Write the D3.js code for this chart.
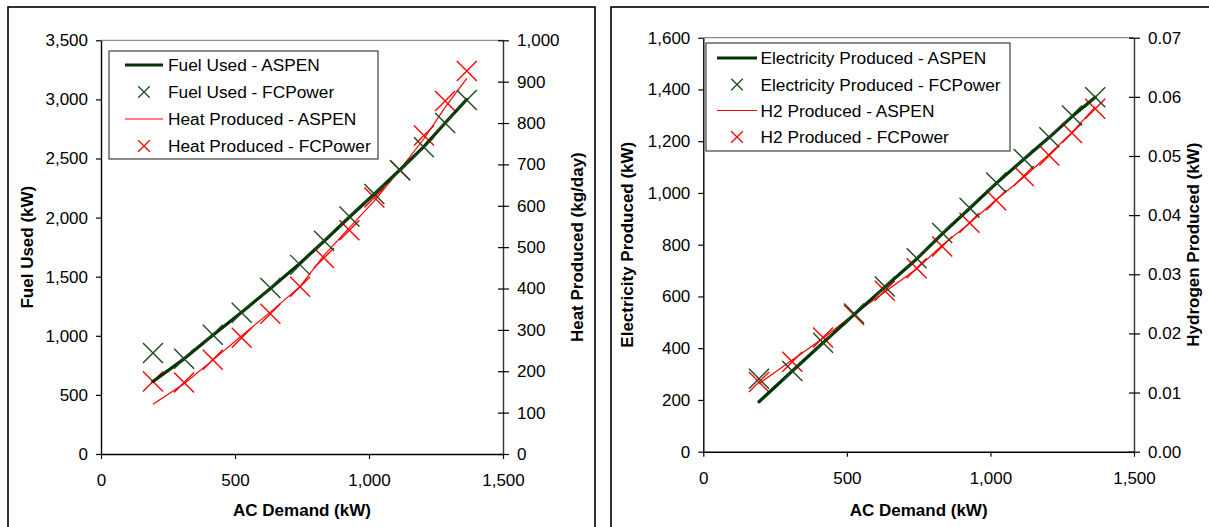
<!DOCTYPE html>
<html>
<head>
<meta charset="utf-8">
<script src="https://cdn.jsdelivr.net/npm/d3@7"></script>
<style>
  html, body { margin: 0; padding: 0; background: #fff; }
  svg { display: block; font-family: "Liberation Sans", Arial, sans-serif; }
  text { fill: #000; }
</style>
</head>
<body>
<svg id="chart" width="1209" height="527"></svg>
<script>
// AC demand levels (kW) shared by both panels
const acDemand = [194, 310, 417, 525, 632, 743, 832, 927, 1020, 1116, 1205, 1284, 1365];

// Left panel: fuel used (kW, left axis) and heat produced (kg/day, right axis)
const fuelAspen   = [613, 805, 1005, 1200, 1400, 1615, 1800, 2005, 2200, 2405, 2600, 2800, 3000];
const fuelFCPower = [855, 805, 1008, 1195, 1405, 1600, 1805, 2010, 2200, 2400, 2595, 2800, 2995];
const heatAspen   = [120, 170, 227, 286, 343, 405, 480, 547, 612, 688, 762, 838, 908];
const heatFCPower = [175, 173, 228, 281, 339, 404, 474, 541, 620, 686, 770, 853, 926];

// Right panel: electricity produced (kW, left axis) and H2 produced (kW, right axis)
const elecAspen   = [193, 312, 421, 530, 636, 745, 842, 940, 1037, 1130, 1215, 1295, 1370];
const elecFCPower = [282, 312, 421, 534, 638, 748, 845, 943, 1040, 1131, 1215, 1299, 1370];
const h2Aspen     = [0.0115, 0.0155, 0.0192, 0.0233, 0.0270, 0.0309, 0.0349, 0.0386, 0.0426, 0.0464, 0.0503, 0.0540, 0.0583];
const h2FCPower   = [0.0118, 0.0152, 0.0193, 0.0231, 0.0272, 0.0310, 0.0347, 0.0387, 0.0425, 0.0466, 0.0501, 0.0539, 0.0580];

// Tick values
const xTicks      = [0, 500, 1000, 1500];
const fuelTicks   = [0, 500, 1000, 1500, 2000, 2500, 3000, 3500];
const heatTicks   = [0, 100, 200, 300, 400, 500, 600, 700, 800, 900, 1000];
const elecTicks   = [0, 200, 400, 600, 800, 1000, 1200, 1400, 1600];
const h2Ticks     = [0, 0.01, 0.02, 0.03, 0.04, 0.05, 0.06, 0.07];

// Text labels
const leftLegend  = ["Fuel Used - ASPEN", "Fuel Used - FCPower", "Heat Produced - ASPEN", "Heat Produced - FCPower"];
const rightLegend = ["Electricity Produced - ASPEN", "Electricity Produced - FCPower", "H2 Produced - ASPEN", "H2 Produced - FCPower"];

const GREEN_LINE = "#003300";
const GREEN_MARK = "#1c4a1c";
const RED = "#ff0000";
const FS = 17;
const FS_LEGEND = 17.3;

const svg = d3.select("#chart");

// Panel frames
svg.append("rect").attr("x", 8).attr("y", 7).attr("width", 587).attr("height", 540)
  .attr("fill", "none").attr("stroke", "#000").attr("stroke-width", 1.6);
svg.append("rect").attr("x", 611).attr("y", 7).attr("width", 640).attr("height", 540)
  .attr("fill", "none").attr("stroke", "#000").attr("stroke-width", 1.6);

function xMark(g, cx, cy, r, color, w) {
  g.append("path")
    .attr("d", `M${cx - r},${cy - r}L${cx + r},${cy + r}M${cx - r},${cy + r}L${cx + r},${cy - r}`)
    .attr("stroke", color).attr("stroke-width", w).attr("fill", "none");
}

function panel(cfg) {
  const g = svg.append("g");
  const x = d3.scaleLinear().domain([0, 1500]).range([cfg.left, cfg.right]);
  const yL = d3.scaleLinear().domain(cfg.yLDomain).range([cfg.bottom, cfg.top]);
  const yR = d3.scaleLinear().domain(cfg.yRDomain).range([cfg.bottom, cfg.top]);

  // plot area top border
  g.append("line").attr("x1", cfg.left).attr("x2", cfg.right)
    .attr("y1", cfg.top).attr("y2", cfg.top)
    .attr("stroke", "#8c8c8c").attr("stroke-width", 1.2);

  // x axis
  const ax = g.append("g").attr("transform", `translate(0,${cfg.bottom})`)
    .call(d3.axisBottom(x).tickValues(xTicks).tickFormat(d3.format(",")).tickSize(5).tickPadding(15).tickSizeOuter(0));
  // left axis
  const al = g.append("g").attr("transform", `translate(${cfg.left},0)`)
    .call(d3.axisLeft(yL).tickValues(cfg.yLTicks).tickFormat(cfg.yLFormat).tickSize(5).tickPadding(8).tickSizeOuter(0));
  // right axis with ticks crossing the line
  const ar = g.append("g").attr("transform", `translate(${cfg.right},0)`)
    .call(d3.axisRight(yR).tickValues(cfg.yRTicks).tickFormat(cfg.yRFormat).tickSize(6).tickPadding(8).tickSizeOuter(0));
  ar.selectAll(".tick line").attr("x1", -5).attr("x2", 6);
  ar.selectAll(".tick text").attr("x", 14);

  [ax, al, ar].forEach(a => {
    a.selectAll(".domain").attr("stroke", "#000").attr("stroke-width", 1.4);
    a.selectAll(".tick line").attr("stroke", "#000").attr("stroke-width", 1.2);
    a.selectAll("text").attr("font-size", FS).attr("fill", "#000")
      .attr("font-family", '"Liberation Sans", Arial, sans-serif');
  });
  ar.select(".domain").attr("stroke", "#333");

  // axis titles
  g.append("text").attr("x", (cfg.left + cfg.right) / 2).attr("y", 516)
    .attr("text-anchor", "middle").attr("font-weight", "bold").attr("font-size", FS)
    .text("AC Demand (kW)");
  g.append("text").attr("transform", `translate(${cfg.yLTitleX},${(cfg.top + cfg.bottom) / 2}) rotate(-90)`)
    .attr("text-anchor", "middle").attr("font-weight", "bold").attr("font-size", FS)
    .text(cfg.yLTitle);
  g.append("text").attr("transform", `translate(${cfg.yRTitleX},${(cfg.top + cfg.bottom) / 2}) rotate(-90)`)
    .attr("text-anchor", "middle").attr("font-weight", "bold").attr("font-size", FS)
    .text(cfg.yRTitle);

  // series
  const lineL = d3.line().x((d, i) => x(acDemand[i])).y(d => yL(d));
  const lineR = d3.line().x((d, i) => x(acDemand[i])).y(d => yR(d));

  // second-axis series first, primary series on top
  g.append("path").datum(cfg.rLine).attr("d", lineR)
    .attr("fill", "none").attr("stroke", RED).attr("stroke-width", 1.2);
  cfg.rMarks.forEach((v, i) => xMark(g, x(acDemand[i]), yR(v), 10, RED, 1.4));

  g.append("path").datum(cfg.lLine).attr("d", lineL)
    .attr("fill", "none").attr("stroke", GREEN_LINE).attr("stroke-width", 3.2)
    .attr("stroke-linejoin", "round").attr("stroke-linecap", "round");
  cfg.lMarks.forEach((v, i) => xMark(g, x(acDemand[i]), yL(v), 10, GREEN_MARK, 1.4));

  // legend
  const L = cfg.legend;
  g.append("rect").attr("x", L.x0).attr("y", L.y0).attr("width", L.x1 - L.x0).attr("height", L.y1 - L.y0)
    .attr("fill", "#fff").attr("stroke", "#404040").attr("stroke-width", 1.2);
  cfg.legendLabels.forEach((lab, i) => {
    const cy = L.rows[i];
    const sx = (L.s0 + L.s1) / 2;
    if (i === 0) {
      g.append("line").attr("x1", L.s0).attr("x2", L.s1).attr("y1", cy).attr("y2", cy)
        .attr("stroke", GREEN_LINE).attr("stroke-width", 3.2);
    } else if (i === 1) {
      xMark(g, sx, cy, 5.8, GREEN_MARK, 1.3);
    } else if (i === 2) {
      g.append("line").attr("x1", L.s0).attr("x2", L.s1).attr("y1", cy).attr("y2", cy)
        .attr("stroke", RED).attr("stroke-width", 1.2);
    } else {
      xMark(g, sx, cy, 5.8, RED, 1.3);
    }
    g.append("text").attr("x", L.tx).attr("y", cy + 6).attr("font-size", FS_LEGEND).text(lab);
  });
}

panel({
  left: 101, right: 503, top: 40.3, bottom: 454,
  yLDomain: [0, 3500], yRDomain: [0, 1000],
  yLTicks: fuelTicks, yRTicks: heatTicks,
  yLFormat: d3.format(","), yRFormat: d3.format(","),
  yLTitle: "Fuel Used (kW)", yRTitle: "Heat Produced (kg/day)",
  yLTitleX: 32.5, yRTitleX: 583,
  lLine: fuelAspen, lMarks: fuelFCPower, rLine: heatAspen, rMarks: heatFCPower,
  legendLabels: leftLegend,
  legend: { x0: 109, x1: 378, y0: 51, y1: 159, s0: 125, s1: 163, tx: 168, rows: [65, 92, 119, 146] }
});

panel({
  left: 703.3, right: 1134, top: 37.7, bottom: 451.7,
  yLDomain: [0, 1600], yRDomain: [0, 0.07],
  yLTicks: elecTicks, yRTicks: h2Ticks,
  yLFormat: d3.format(","), yRFormat: d3.format(".2f"),
  yLTitle: "Electricity Produced (kW)", yRTitle: "Hydrogen Produced (kW)",
  yLTitleX: 633, yRTitleX: 1199,
  lLine: elecAspen, lMarks: elecFCPower, rLine: h2Aspen, rMarks: h2FCPower,
  legendLabels: rightLegend,
  legend: { x0: 706, x1: 1010, y0: 43, y1: 151, s0: 717, s1: 757, tx: 760.5, rows: [58, 84.5, 110.5, 137] }
});
</script>
</body>
</html>
